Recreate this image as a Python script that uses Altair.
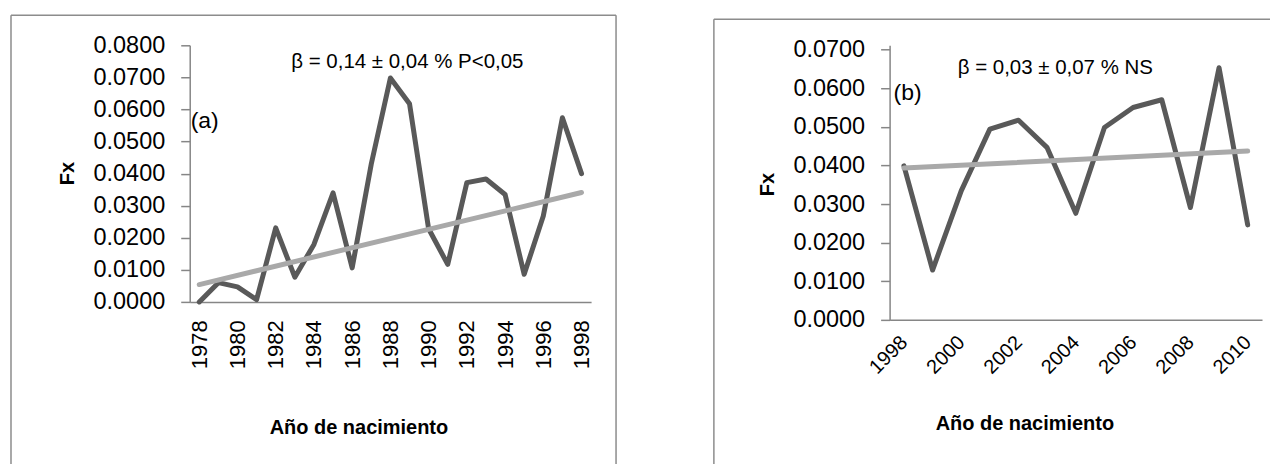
import altair as alt
import pandas as pd

# ---------------- data ----------------
years_a = [1978, 1979, 1980, 1981, 1982, 1983, 1984, 1985, 1986, 1987, 1988,
           1989, 1990, 1991, 1992, 1993, 1994, 1995, 1996, 1997, 1998]
fx_a = [0.0000, 0.0060, 0.0047, 0.0007, 0.0231, 0.0077, 0.0179, 0.0340, 0.0106,
        0.0430, 0.0698, 0.0618, 0.0228, 0.0117, 0.0372, 0.0383, 0.0335, 0.0086,
        0.0268, 0.0574, 0.0400]
trend_years_a = [1978, 1998]
trend_a = [0.0054, 0.0341]
x_labels_a = [1978, 1980, 1982, 1984, 1986, 1988, 1990, 1992, 1994, 1996, 1998]
y_ticks_a = [0.0, 0.01, 0.02, 0.03, 0.04, 0.05, 0.06, 0.07, 0.08]

years_b = [1998, 1999, 2000, 2001, 2002, 2003, 2004, 2005, 2006, 2007, 2008, 2009, 2010]
fx_b = [0.0399, 0.0129, 0.0334, 0.0494, 0.0517, 0.0446, 0.0276, 0.0498, 0.0550,
        0.0570, 0.0291, 0.0653, 0.0246]
trend_years_b = [1998, 2010]
trend_b = [0.0393, 0.0437]
x_labels_b = [1998, 2000, 2002, 2004, 2006, 2008, 2010]
y_ticks_b = [0.0, 0.01, 0.02, 0.03, 0.04, 0.05, 0.06, 0.07]

tag_a, beta_a = "(a)", "β = 0,14 ± 0,04 % P<0,05"
tag_b, beta_b = "(b)", "β = 0,03 ± 0,07 % NS"
x_title = "Año de nacimiento"
y_title = "Fx"

# ---------------- style ----------------
FONT = "Liberation Sans"
LINE = "#595959"
TREND = "#a9a9a9"
AXIS = "#868686"
BORDER = "#8c8c8c"


def one_row():
    return alt.Data(values=[{"k": 0}])


def rule_v(x, y1, y2):
    return alt.Chart(one_row()).mark_rule(color=BORDER, strokeWidth=1.5).encode(
        x=alt.value(x), y=alt.value(y1), y2=alt.value(y2))


def rule_h(x1, x2, y):
    return alt.Chart(one_row()).mark_rule(color=BORDER, strokeWidth=1.5).encode(
        x=alt.value(x1), x2=alt.value(x2), y=alt.value(y))


def label(text, x, y, size, align="left"):
    return alt.Chart(one_row()).mark_text(
        text=text, font=FONT, fontSize=size, color="black",
        align=align, baseline="middle").encode(x=alt.value(x), y=alt.value(y))


def panel(years, fx, tyears, tvals, xlabels, yticks, ydomain, width, height,
          xangle, xbase, xfont, xpad, fx_pos, xt_pos, tag, tag_pos, beta,
          beta_pos, bl, br, bt, bb, right_edge):
    df = pd.DataFrame({"year": years, "fx": fx})
    dt = pd.DataFrame({"year": tyears, "fx": tvals})
    xenc = alt.X("year:O", scale=alt.Scale(domain=years),
                 axis=alt.Axis(values=xlabels, labelAngle=xangle,
                               labelBaseline=xbase, labelAlign="right",
                               ticks=False, tickSize=0, domainColor=AXIS,
                               domainWidth=1.5, labelFont=FONT,
                               labelFontSize=xfont, labelColor="black",
                               labelPadding=xpad, labelOverlap=False,
                               title=x_title, titleFont=FONT,
                               titleFontSize=20, titleFontWeight="bold",
                               titleColor="black", titleX=xt_pos[0],
                               titleY=xt_pos[1], titleAlign="center",
                               titleBaseline="middle", titleAngle=0))
    yenc = alt.Y("fx:Q", scale=alt.Scale(domain=ydomain, nice=False, zero=True),
                 axis=alt.Axis(values=yticks, format=".4f", grid=False,
                               tickSize=9, tickColor=AXIS, tickWidth=1.5,
                               domainColor=AXIS, domainWidth=1.5, labelFont=FONT,
                               labelFontSize=23.5, labelColor="black",
                               labelPadding=16, labelOverlap=False,
                               title=y_title, titleFont=FONT, titleFontSize=20,
                               titleFontWeight="bold", titleColor="black",
                               titleAngle=270, titleX=fx_pos[0],
                               titleY=fx_pos[1], titleAlign="center",
                               titleBaseline="middle"))
    line = alt.Chart(df).mark_line(color=LINE, strokeWidth=5,
                                   strokeJoin="round", strokeCap="round").encode(
        x=xenc, y=yenc)
    trend = alt.Chart(dt).mark_line(color=TREND, strokeWidth=5,
                                    strokeCap="round").encode(x=xenc, y=yenc)
    layers = [rule_v(bl, bt, bb), rule_h(bl, br, bt)]
    if right_edge:
        layers.append(rule_v(br, bt, bb))
    layers += [line, trend,
               label(tag, tag_pos[0], tag_pos[1], 23),
               label(beta, beta_pos[0], beta_pos[1], 20.5, align="center")]
    return alt.layer(*layers).properties(width=width, height=height)


left = panel(years_a, fx_a, trend_years_a, trend_a, x_labels_a, y_ticks_a,
             [0, 0.08], 402, 257, 270, "middle", 22, 18, (-122, 128), (169, 126),
             tag_a, (1, 76), beta_a, (218, 17), -179, 427, -30, 420, True)
right = panel(years_b, fx_b, trend_years_b, trend_b, x_labels_b, y_ticks_b,
              [0, 0.0711], 373, 275, 315, "middle", 20, 19, (-122, 139),
              (135, 104), tag_b, (4, 48), beta_b, (166, 23), -176, 381, -26,
              420, False)

chart = alt.hconcat(left, right, spacing=299, bounds="flush").properties(
    padding={"left": 2, "top": 6, "right": 0, "bottom": 0}
).configure_view(strokeWidth=0)

chart.save("out.html", embed_options={"renderer": "svg", "actions": False})
